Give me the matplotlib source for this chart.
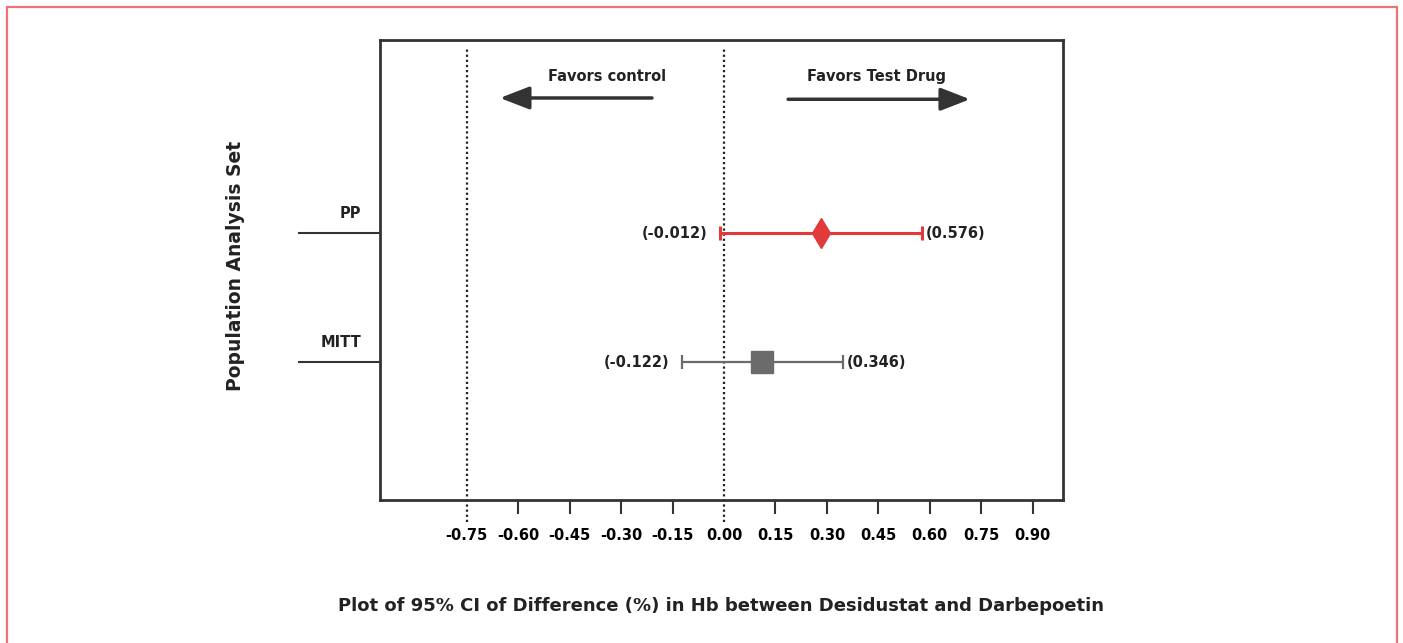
import matplotlib.pyplot as plt
import matplotlib.patches as mpatches
import matplotlib.transforms as mtransforms

plt.rcParams["font.family"] = ["DejaVu Sans"]
plt.rcParams["font.weight"] = "bold"

# data
groups = ["MITT", "PP"]
y_pos = [1, 2]
lower = [-0.122, -0.012]
upper = [0.346, 0.576]
estimate = [0.112, 0.282]
xticks = [-0.75, -0.60, -0.45, -0.30, -0.15, 0.00, 0.15, 0.30, 0.45, 0.60, 0.75, 0.90]
xtick_labels = ["-0.75", "-0.60", "-0.45", "-0.30", "-0.15", "0.00",
                "0.15", "0.30", "0.45", "0.60", "0.75", "0.90"]

dark = "#333333"
colors = ["#6b6b6b", "#e03a3a"]
markers = ["s", "d"]
msizes = [16.5, 15]
lws = [1.6, 2.2]

fig = plt.figure(figsize=(14.03, 6.43), dpi=100)
ax = fig.add_axes([0.2708, 0.2224, 0.4868, 0.7154])

# red frame round the figure
frame = mpatches.Rectangle((7 / 1403, -0.02), (1397 - 7) / 1403, 1.02 - 7 / 643,
                           transform=fig.transFigure, fill=False,
                           edgecolor="#ec7474", linewidth=1.6)
fig.add_artist(frame)

for i in range(len(groups)):
    y = y_pos[i]
    ax.errorbar(estimate[i], y,
                xerr=[[estimate[i] - lower[i]], [upper[i] - estimate[i]]],
                fmt=markers[i], color=colors[i], ecolor=colors[i],
                markersize=msizes[i], elinewidth=lws[i], capsize=5,
                capthick=lws[i], zorder=3)
    ax.annotate(f"({lower[i]:.3f})", (lower[i], y), xytext=(-9, 0),
                textcoords="offset points", ha="right", va="center",
                fontsize=10.5, fontweight="bold", color="#222222")
    ax.annotate(f"({upper[i]:.3f})", (upper[i], y), xytext=(3, 0),
                textcoords="offset points", ha="left", va="center",
                fontsize=10.5, fontweight="bold", color="#222222")

# reference lines
for xv in [-0.75, 0.0]:
    ax.axvline(xv, ymin=-0.048, ymax=0.985, color="#222222",
               linestyle=(0, (1, 1.3)), linewidth=1.6, clip_on=False, zorder=1)

# direction arrows
arrow_style = "-|>,head_length=1.8,head_width=0.7"
ax.annotate("", xy=(-0.653, 3.05), xytext=(-0.21, 3.05),
            arrowprops=dict(arrowstyle=arrow_style, color=dark, lw=2.5,
                            shrinkA=0, shrinkB=0))
ax.annotate("", xy=(0.717, 3.04), xytext=(0.187, 3.04),
            arrowprops=dict(arrowstyle=arrow_style, color=dark, lw=2.5,
                            shrinkA=0, shrinkB=0))
ax.text(-0.341, 3.22, "Favors control", ha="center", va="center",
        fontsize=10.5, fontweight="bold", color="#222222")
ax.text(0.446, 3.22, "Favors Test Drug", ha="center", va="center",
        fontsize=10.5, fontweight="bold", color="#222222")

ax.set_xlim(-1.003, 0.988)
ax.set_ylim(-0.07, 3.5)

ax.set_xticks(xticks)
ax.set_xticklabels(xtick_labels, fontsize=10.5, fontweight="bold")
ax.tick_params(axis="x", length=10, width=1.5, color=dark, pad=10)
for i in [0, 5]:
    ax.xaxis.get_major_ticks()[i].tick1line.set_visible(False)

ax.set_yticks(y_pos)
ax.set_yticklabels([])
ax.tick_params(axis="y", length=59, width=1.5, color=dark)
trans = mtransforms.blended_transform_factory(ax.transAxes, ax.transData)
for i in range(len(groups)):
    ax.annotate(groups[i], (-0.027, y_pos[i]), xycoords=trans,
                xytext=(0, 9), textcoords="offset points",
                ha="right", va="bottom", fontsize=10.5, fontweight="bold",
                color="#222222")

for sp in ax.spines.values():
    sp.set_color(dark)
    sp.set_linewidth(2)

ax.set_xlabel("Plot of 95% CI of Difference (%) in Hb between Desidustat and Darbepoetin",
              fontsize=13, fontweight="bold", va="center", color="#222222")
ax.xaxis.set_label_coords(0.5, -0.2304)
ax.set_ylabel("Population Analysis Set", fontsize=13.5, fontweight="bold",
              va="center", color="#222222")
ax.yaxis.set_label_coords(-0.212, 0.509)

fig.savefig("out.png", dpi=100)
